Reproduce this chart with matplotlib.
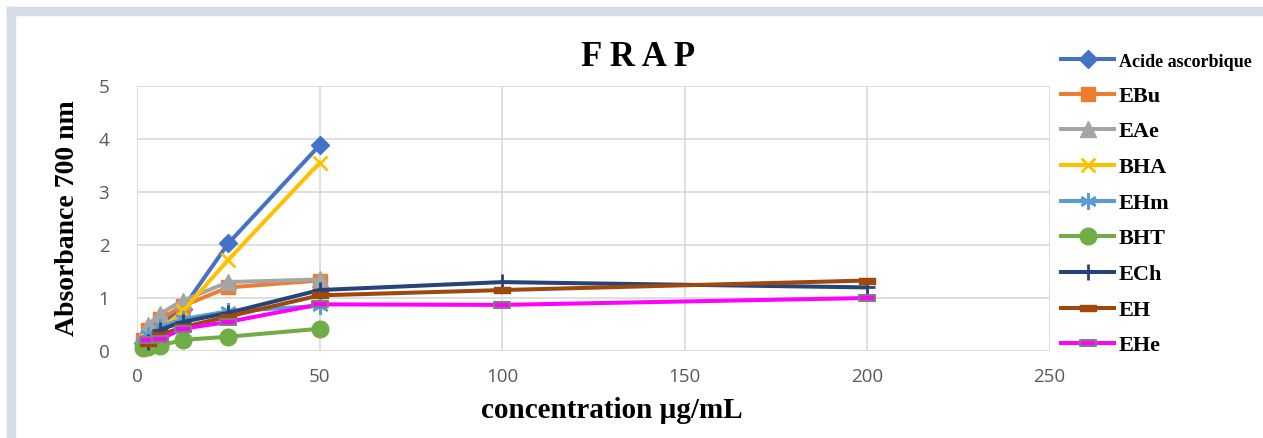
import matplotlib.pyplot as plt
from matplotlib.patches import Rectangle
from matplotlib.path import Path

# concentrations (µg/mL)
conc_short = [1.5625, 3.125, 6.25, 12.5, 25, 50]
conc_long = [3.125, 6.25, 12.5, 25, 50, 100, 200]

acide_ascorbique = [0.15, 0.30, 0.50, 0.80, 2.03, 3.88]
ebu = [0.20, 0.40, 0.60, 0.85, 1.20, 1.33]
eae = [0.30, 0.50, 0.70, 0.95, 1.30, 1.35]
bha = [0.10, 0.20, 0.40, 0.75, 1.72, 3.55]
ehm = [0.15, 0.30, 0.45, 0.60, 0.75, 0.85]
bht = [0.05, 0.08, 0.10, 0.21, 0.27, 0.42]
ech = [0.17, 0.40, 0.55, 0.72, 1.15, 1.30, 1.20]
eh = [0.15, 0.30, 0.45, 0.65, 1.05, 1.15, 1.33]
ehe = [0.20, 0.22, 0.42, 0.55, 0.88, 0.87, 1.00]

x_ticks = [0, 50, 100, 150, 200, 250]
y_ticks = [0, 1, 2, 3, 4, 5]

# flat bar marker used by Excel for "dash"
dash = Path([(-1, -0.35), (1, -0.35), (1, 0.35), (-1, 0.35), (-1, -0.35)],
            [Path.MOVETO, Path.LINETO, Path.LINETO, Path.LINETO, Path.CLOSEPOLY])

series = [
    ("Acide ascorbique", conc_short, acide_ascorbique, "#4472C4", dict(marker="D", ms=9)),
    ("EBu", conc_short, ebu, "#ED7D31", dict(marker="s", ms=10)),
    ("EAe", conc_short, eae, "#A5A5A5", dict(marker="^", ms=11)),
    ("BHA", conc_short, bha, "#FFC000", dict(marker="x", ms=10, mew=2)),
    ("EHm", conc_short, ehm, "#5B9BD5", dict(marker=(6, 2, 0), ms=12, mew=1.8)),
    ("BHT", conc_short, bht, "#70AD47", dict(marker="o", ms=12)),
    ("ECh", conc_long, ech, "#264478", dict(marker="+", ms=12, mew=2)),
    ("EH", conc_long, eh, "#9E480E", dict(marker=dash, ms=11, mec="#9E480E")),
    ("EHe", conc_long, ehe, "#FF00FF", dict(marker=dash, ms=11, mec="#7F7F7F", mew=1.5)),
]

fig = plt.figure(figsize=(12.63, 4.38), dpi=100)
ax = fig.add_axes([0.1085, 0.1986, 0.7225, 0.6051])

handles = []
for name, xs, ys, color, mk in series:
    line, = ax.plot(xs, ys, color=color, lw=2.9, label=name, clip_on=False, **mk)
    handles.append(line)

ax.set_xlim(0, 250)
ax.set_ylim(0, 5)
ax.set_xticks(x_ticks)
ax.set_yticks(y_ticks)
ax.grid(True, color="#D9D9D9", lw=1.2)
ax.set_axisbelow(True)
for s in ax.spines.values():
    s.set_visible(False)
ax.tick_params(length=0, labelsize=13.5, labelcolor="#595959")
ax.tick_params(axis="y", pad=20)
ax.tick_params(axis="x", pad=12)
for lab in ax.get_xticklabels() + ax.get_yticklabels():
    lab.set_family("Open Sans")

ax.set_xlabel("concentration µg/mL", family="Liberation Serif", fontweight="bold",
              fontsize=21)
ax.xaxis.set_label_coords(0.52, -0.175)
ax.set_ylabel("Absorbance 700 nm", family="Liberation Serif", fontweight="bold",
              fontsize=20)
ax.yaxis.set_label_coords(-0.062, 0.5)
fig.text(0.505, 0.868, "F R A P", family="Liberation Serif", fontweight="bold",
         fontsize=25, ha="center", va="center")

leg = fig.legend(handles=handles, loc="upper left", bbox_to_anchor=(0.833, 0.903),
                 frameon=False, prop={"family": "Liberation Serif", "weight": "bold", "size": 16},
                 handlelength=2.4, handletextpad=0.2, labelspacing=0.68, borderaxespad=0)
leg.get_texts()[0].set_fontsize(13)

# light frame of the chart area (top and left edges)
fig.patches.append(Rectangle((7 / 1263, 1 - 15 / 438), 1, 8 / 438, transform=fig.transFigure,
                             color="#D6DCE5", zorder=-1))
fig.patches.append(Rectangle((7 / 1263, 0), 8 / 1263, 1 - 7 / 438, transform=fig.transFigure,
                             color="#D6DCE5", zorder=-1))

fig.savefig("out.png", dpi=100)
